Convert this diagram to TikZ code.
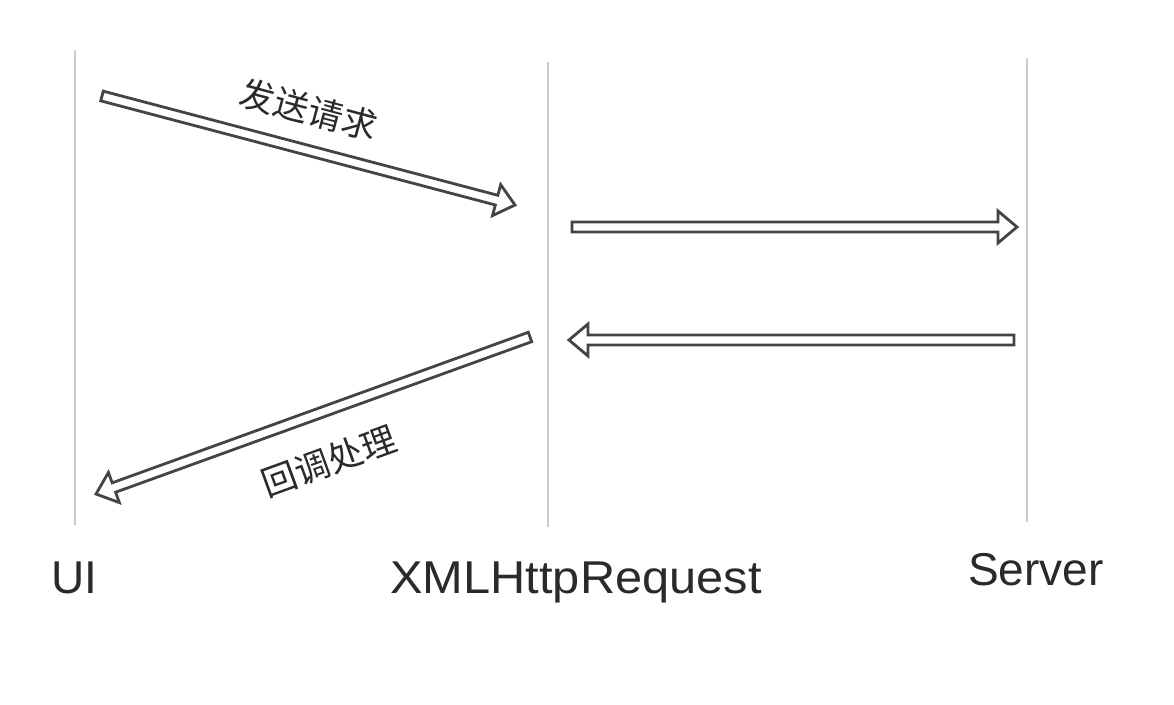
\documentclass[tikz,border=0pt]{standalone}
\usepackage{fontspec}
\setmainfont{Liberation Sans}
\newfontfamily\cjk{Noto Sans CJK SC}
\usetikzlibrary{calc}
\definecolor{lifegray}{HTML}{CCCCCC}
\definecolor{arrgray}{HTML}{444444}
\definecolor{txtgray}{HTML}{2A2A2A}
\tikzset{
  lifeline/.style={draw=lifegray, line width=1.6pt},
  hollow/.style={draw=arrgray, line width=2.8pt, fill=white, line join=miter},
  actor/.style={text=txtgray, font=\fontsize{46}{50}\selectfont, inner sep=0pt, anchor=base},
  msg/.style={text=txtgray, font=\cjk\fontsize{35}{38}\selectfont, inner sep=0pt},
}
\newcommand\hollowarrow[2]{%
  \draw[hollow] let \p1=(#1), \p2=(#2),
    \n1={atan2(\y2-\y1,\x2-\x1)}, \n2={veclen(\x2-\x1,\y2-\y1)-19pt} in
    ($(\p1)+(\n1+90:5pt)$) -- ($(\p1)+(\n1:\n2)+(\n1+90:5pt)$)
    -- ($(\p1)+(\n1:\n2)+(\n1+90:16pt)$) -- (\p2)
    -- ($(\p1)+(\n1:\n2)+(\n1-90:16pt)$) -- ($(\p1)+(\n1:\n2)+(\n1-90:5pt)$)
    -- ($(\p1)+(\n1-90:5pt)$) -- cycle;}
\begin{document}
\begin{tikzpicture}[x=1pt,y=-1pt]
\useasboundingbox[fill=white] (0,0) rectangle (1174,704);
% lifelines
\coordinate (uiT) at (75,50);   \coordinate (uiB) at (75,525);
\coordinate (xhT) at (548,62);  \coordinate (xhB) at (548,527);
\coordinate (svT) at (1027,58); \coordinate (svB) at (1027,522);
\draw[lifeline] (uiT) -- (uiB);
\draw[lifeline] (xhT) -- (xhB);
\draw[lifeline] (svT) -- (svB);
% actors
\node[actor] (ui) at (74,593) {UI};
\node[actor, xscale=1.06] (xhr) at (576,593) {XMLHttpRequest};
\node[actor] (server) at (1036,585) {Server};
% arrows
\coordinate (a1s) at (102,96);   \coordinate (a1e) at (515,205);
\coordinate (a2s) at (572,227);  \coordinate (a2e) at (1017,227);
\coordinate (a3s) at (1014,340); \coordinate (a3e) at (569,340);
\coordinate (a4s) at (530,337);  \coordinate (a4e) at (96,494);
\hollowarrow{a1s}{a1e}
\hollowarrow{a2s}{a2e}
\hollowarrow{a3s}{a3e}
\hollowarrow{a4s}{a4e}
% labels
\node[msg, rotate=-15] (send) at (309,110) {发送请求};
\node[msg, rotate=20] (cb) at (329,461) {回调处理};
\end{tikzpicture}
\end{document}
